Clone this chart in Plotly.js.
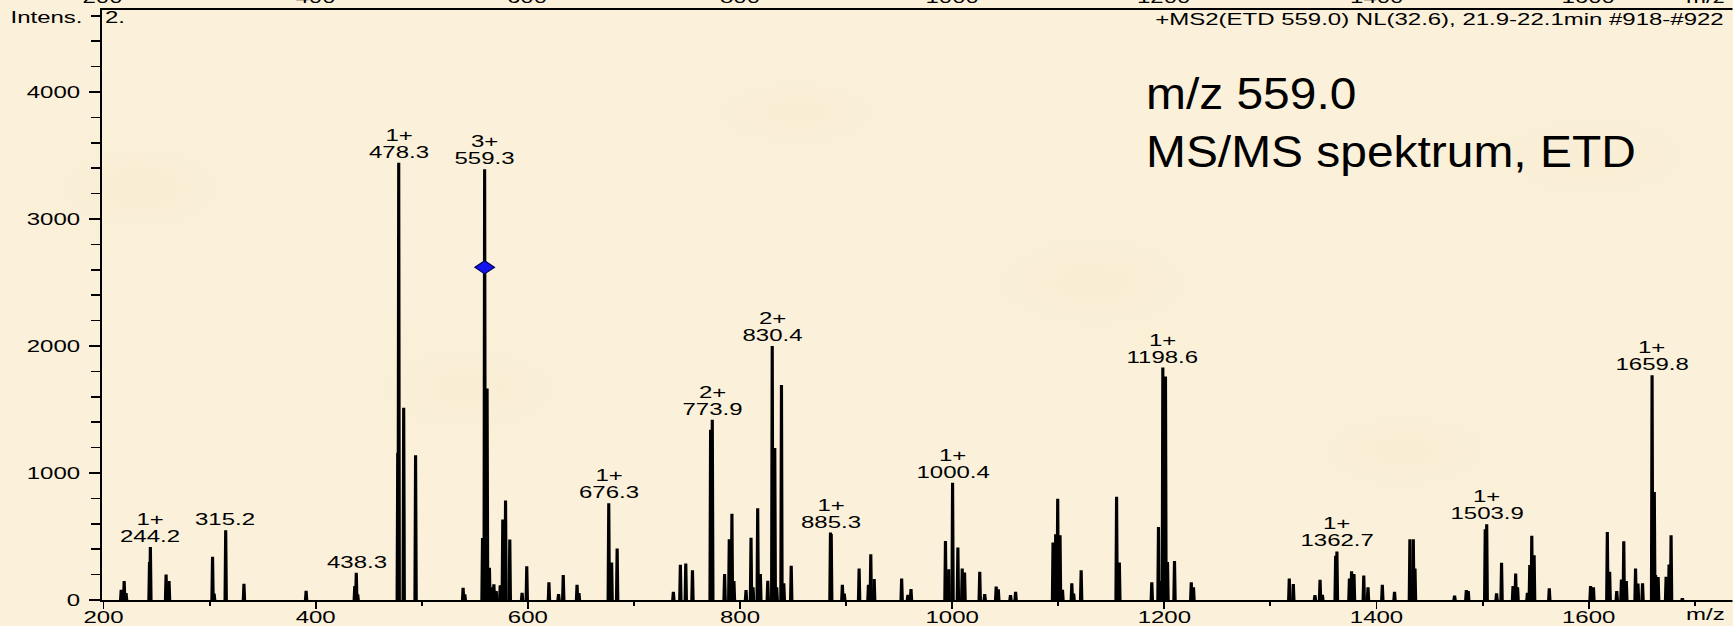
<!DOCTYPE html>
<html>
<head>
<meta charset="utf-8">
<script src="https://cdn.plot.ly/plotly-3.0.1.min.js"></script>
<style>
  html, body { margin: 0; padding: 0; width: 1733px; height: 626px; overflow: hidden; }
  body {
    background-color: #fbf1da;
    background-image:
      radial-gradient(ellipse 160px 80px at 8% 30%, rgba(242, 228, 192, 0.22), rgba(242, 228, 192, 0)),
      radial-gradient(ellipse 200px 90px at 27% 62%, rgba(242, 228, 192, 0.20), rgba(242, 228, 192, 0)),
      radial-gradient(ellipse 180px 70px at 46% 18%, rgba(242, 228, 192, 0.20), rgba(242, 228, 192, 0)),
      radial-gradient(ellipse 220px 100px at 63% 45%, rgba(242, 228, 192, 0.20), rgba(242, 228, 192, 0)),
      radial-gradient(ellipse 190px 80px at 81% 72%, rgba(242, 228, 192, 0.20), rgba(242, 228, 192, 0)),
      radial-gradient(ellipse 210px 90px at 92% 25%, rgba(242, 228, 192, 0.20), rgba(242, 228, 192, 0));
  }
  /* the spectrum is laid out narrow and widened horizontally */
  #spectrum { width: 1155.333px; height: 626px; transform: scaleX(1.5); transform-origin: 0 0; }
  /* the headline keeps nearly normal proportions */
  .annotation[data-index="0"] text.annotation-text {
    transform-box: fill-box; transform-origin: 0 50%; transform: scaleX(0.71);
  }
</style>
</head>
<body>
<div id="spectrum"></div>
<script>
// Fragment ions (m/z, intensity) without a printed label
const peakMz = [
  216.7, 219.5, 221.3, 243.4, 259.0, 261.8, 302.8, 304.3, 332.4, 391.0,
  436.9, 439.6, 477.4, 483.0, 494.2, 539.0, 540.6, 557.3, 561.6, 563.8,
  566.0, 568.0, 570.2, 574.0, 576.4, 579.0, 583.0, 594.6, 599.0, 619.9,
  629.0, 633.4, 646.4, 648.2, 679.0, 684.2, 737.2, 743.8, 748.9, 755.2,
  772.3, 785.5, 789.9, 792.4, 794.3, 805.7, 810.4, 812.3, 816.7, 819.2,
  826.2, 832.8, 834.6, 839.1, 841.3, 848.3, 886.0, 896.5, 898.3, 912.3,
  921.1, 923.3, 926.5, 952.4, 958.3, 961.2, 993.7, 996.8, 1005.4, 1009.5,
  1011.7, 1026.0, 1030.7, 1041.5, 1043.5, 1055.0, 1059.8, 1095.1, 1097.6, 1099.5,
  1101.7, 1104.0, 1112.8, 1114.5, 1121.6, 1155.0, 1157.6, 1188.2, 1194.5, 1196.5,
  1201.1, 1203.0, 1209.6, 1225.4, 1227.5, 1317.8, 1321.6, 1342.0, 1346.8, 1349.0,
  1361.5, 1374.5, 1376.5, 1378.8, 1388.0, 1392.0, 1405.5, 1417.0, 1431.5, 1434.7,
  1436.3, 1473.6, 1484.7, 1486.5, 1502.5, 1513.2, 1517.9, 1528.7, 1531.2, 1533.0,
  1542.3, 1544.5, 1546.4, 1548.6, 1562.9, 1601.8, 1604.5, 1617.6, 1619.8, 1626.5,
  1630.9, 1633.1, 1635.5, 1644.2, 1646.5, 1650.8, 1661.9, 1663.1, 1665.5, 1673.0,
  1675.8, 1677.7, 1688.3
];
const peakIntensity = [
  80, 150, 55, 300, 200, 150, 340, 50, 128, 73,
  110, 45, 1160, 1514, 1140, 97, 45, 489, 1665, 254,
  100, 123, 70, 115, 633, 784, 476, 57, 265, 139,
  47, 196, 120, 55, 295, 405, 65, 277, 288, 235,
  1341, 204, 478, 680, 150, 78, 491, 100, 722, 204,
  152, 1197, 100, 1694, 131, 269, 520, 120, 50, 248,
  120, 361, 165, 170, 40, 86, 465, 243, 413, 248,
  217, 222, 47, 107, 85, 39, 65, 452, 518, 797,
  510, 80, 131, 50, 235, 813, 295, 139, 575, 150,
  1759, 300, 308, 139, 100, 170, 125, 39, 160, 40,
  348, 170, 227, 205, 193, 100, 120, 65, 478, 478,
  248, 34, 78, 70, 557, 52, 293, 110, 209, 100,
  57, 275, 505, 353, 92, 110, 100, 536, 222, 71,
  162, 463, 150, 248, 130, 131, 850, 196, 180, 183,
  280, 510, 13
];

// Annotated fragment ions
const labelMz = [244.2, 315.2, 438.3, 478.3, 559.3, 676.3, 773.9, 830.4, 885.3, 1000.4, 1198.6, 1362.7, 1503.9, 1659.8];
const labelIntensity = [418, 549, 214, 3443, 3391, 761, 1420, 2000, 531, 923, 1830, 382, 596, 1770];
const labelCharge = ['1+', '', '', '1+', '3+', '1+', '2+', '2+', '1+', '1+', '1+', '1+', '1+', '1+'];

// Precursor marker
const precursorMz = [559.3];
const precursorLevel = [2620];

// Axis tick values
const mzTicks = [200, 400, 600, 800, 1000, 1200, 1400, 1600];

const FONT = 'Liberation Sans, Arial, Helvetica, sans-serif';
const HALF_WIDTH = 0.6;

// Each centroid becomes a narrow filled stick
const allMz = peakMz.concat(labelMz);
const allI = peakIntensity.concat(labelIntensity);
const stickX = [], stickY = [];
allMz.forEach((mz, i) => {
  stickX.push(mz - HALF_WIDTH, mz, mz + HALF_WIDTH, null);
  stickY.push(0, allI[i], 0, null);
});

const spectrum = {
  type: 'scatter', mode: 'lines', x: stickX, y: stickY,
  fill: 'toself', fillcolor: '#000000',
  line: { color: '#000000', width: 2.1 },
  hoverinfo: 'skip', showlegend: false
};

const precursor = {
  type: 'scatter', mode: 'markers', x: precursorMz, y: precursorLevel,
  marker: { symbol: 'diamond', size: 10, color: '#1414f0', line: { color: '#000060', width: 1 } },
  showlegend: false, hoverinfo: 'skip'
};

const annotations = [];

// headline (index 0)
annotations.push({
  xref: 'paper', yref: 'paper', x: 0.6385, y: 1, xanchor: 'left', yanchor: 'top',
  yshift: -56, align: 'left', showarrow: false,
  text: 'm/z 559.0<br>MS/MS spektrum, ETD',
  font: { family: FONT, size: 45, color: '#000000' }
});

// scan description
annotations.push({
  xref: 'paper', yref: 'paper', x: 1, y: 1, xanchor: 'right', yanchor: 'middle',
  xshift: -4, yshift: -9, showarrow: false,
  text: '+MS2(ETD 559.0) NL(32.6), 21.9-22.1min #918-#922',
  font: { family: FONT, size: 16, color: '#000000' }
});

annotations.push({
  xref: 'paper', yref: 'paper', x: 0, y: 1, xanchor: 'center', yanchor: 'middle',
  xshift: -37, yshift: -7, showarrow: false, text: 'Intens.',
  font: { family: FONT, size: 16, color: '#000000' }
});
annotations.push({
  xref: 'paper', yref: 'paper', x: 0, y: 1, xanchor: 'left', yanchor: 'middle',
  xshift: 0, yshift: -7, showarrow: false, text: '2.',
  font: { family: FONT, size: 16, color: '#000000' }
});
annotations.push({
  xref: 'paper', yref: 'paper', x: 1, y: 0, xanchor: 'right', yanchor: 'middle',
  xshift: -3, yshift: -14, showarrow: false, text: 'm/z',
  font: { family: FONT, size: 16, color: '#000000' }
});

// axis labels of the panel above, mostly outside the page
mzTicks.forEach(v => annotations.push({
  xref: 'x', yref: 'paper', x: v, y: 1, yanchor: 'bottom', yshift: 2, showarrow: false,
  text: String(v), font: { family: FONT, size: 16, color: '#000000' }
}));
annotations.push({
  xref: 'paper', yref: 'paper', x: 1, y: 1, xanchor: 'right', yanchor: 'bottom',
  xshift: -3, yshift: 2, showarrow: false, text: 'm/z',
  font: { family: FONT, size: 16, color: '#000000' }
});

// peak labels: m/z value with the charge state above it
labelMz.forEach((mz, i) => {
  annotations.push({
    x: mz, y: labelIntensity[i], xref: 'x', yref: 'y', yanchor: 'bottom',
    yshift: 0, showarrow: false, text: mz.toFixed(1),
    font: { family: FONT, size: 16, color: '#000000' }
  });
  if (labelCharge[i]) {
    annotations.push({
      x: mz, y: labelIntensity[i], xref: 'x', yref: 'y', yanchor: 'bottom',
      yshift: 17, showarrow: false, text: labelCharge[i],
      font: { family: FONT, size: 16, color: '#000000' }
    });
  }
});

const layout = {
  width: 1155.333, height: 626,
  margin: { l: 67.7, r: 0, t: 10, b: 26 },
  paper_bgcolor: 'rgba(0,0,0,0)', plot_bgcolor: 'rgba(0,0,0,0)',
  font: { family: FONT, size: 16, color: '#000000' },
  xaxis: {
    range: [198.6, 1735.6], tickmode: 'array', tickvals: mzTicks,
    ticks: 'outside', ticklen: 7, tickwidth: 1.3, tickcolor: '#000000',
    showline: true, linecolor: '#000000', linewidth: 2, mirror: true,
    showgrid: false, zeroline: false, ticklabelstandoff: -5,
    tickfont: { family: FONT, size: 16, color: '#000000' },
    minor: { dtick: 100, tick0: 200, ticks: 'outside', ticklen: 4, tickwidth: 1.3, tickcolor: '#000000', showgrid: false }
  },
  yaxis: {
    range: [0, 4646], tickmode: 'linear', tick0: 0, dtick: 1000,
    ticks: 'outside', ticklen: 7, tickwidth: 1.6, tickcolor: '#000000',
    showline: true, linecolor: '#000000', linewidth: 1.4,
    showgrid: false, zeroline: false, ticklabelstandoff: 3,
    tickfont: { family: FONT, size: 16, color: '#000000' },
    minor: { dtick: 200, tick0: 0, ticks: 'outside', ticklen: 6, tickwidth: 1.6, tickcolor: '#000000', showgrid: false }
  },
  annotations: annotations,
  showlegend: false
};

Plotly.newPlot('spectrum', [spectrum, precursor], layout, { staticPlot: true, displayModeBar: false });
</script>
</body>
</html>
